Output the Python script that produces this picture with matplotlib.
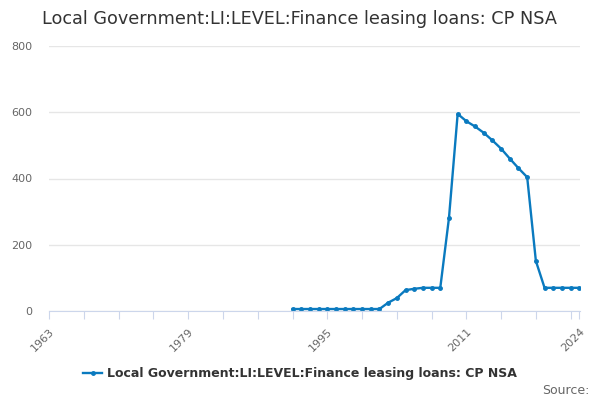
import matplotlib
matplotlib.use('Agg')
from matplotlib import pyplot as plt

# yearly values
years = list(range(1991, 2025))
values = [6, 6, 6, 6, 6, 6, 6, 6, 6, 6, 6,
          25, 39, 63, 67, 70, 70, 70, 281, 595,
          573, 557, 538, 515, 490, 460, 431, 404,
          151, 70, 70, 70, 70, 70]

tick_years = list(range(1963, 2024, 4)) + [2024]
label_years = [1963, 1979, 1995, 2011, 2024]
y_ticks = [0, 200, 400, 600, 800]

series_name = 'Local Government:LI:LEVEL:Finance leasing loans: CP NSA'
line_color = '#0a7abf'

fig = plt.figure(figsize=(6, 4), dpi=100)
ax = fig.add_axes([0.082, 0.2225, 0.885, 0.6625])

ax.plot(years, values, color=line_color, linewidth=1.7, marker='o', markersize=2.5,
        label=series_name)

ax.set_xlim(1963, 2024.1)
ax.set_ylim(0, 800)
ax.set_yticks(y_ticks)
ax.set_yticklabels([str(v) for v in y_ticks], color='#666666', fontsize=8)
ax.set_xticks(tick_years)
ax.set_xticklabels([str(y) if y in label_years else '' for y in tick_years],
                   rotation=45, ha='right', rotation_mode='anchor',
                   color='#666666', fontsize=8)
ax.tick_params(axis='x', length=6, color='#ccd6eb', pad=5)
ax.tick_params(axis='y', length=0, pad=12)

ax.grid(axis='y', color='#e6e6e6', linewidth=1)
ax.set_axisbelow(True)
for side in ['top', 'right', 'left']:
    ax.spines[side].set_visible(False)
ax.spines['bottom'].set_color('#ccd6eb')

fig.text(0.07, 0.953, series_name, fontsize=12.7, color='#333333', va='center')

leg = fig.legend(loc='center', bbox_to_anchor=(0.5, 0.066), frameon=False,
                 prop={'size': 9, 'weight': 'bold'}, handlelength=1.5,
                 handletextpad=0.4)
for t in leg.get_texts():
    t.set_color('#333333')

fig.text(0.983, 0.025, 'Source:', fontsize=9, color='#666666', ha='right', va='center')

fig.savefig('out.png', dpi=100)
